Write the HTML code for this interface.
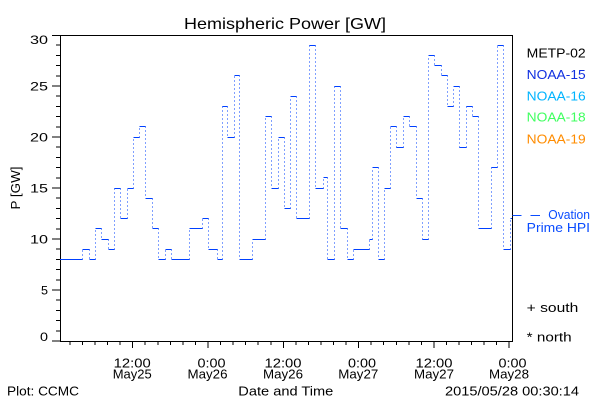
<!DOCTYPE html>
<html><head><meta charset="utf-8"><style>
html,body{margin:0;padding:0;background:#fff;}
svg{display:block;}
text{font-family:"Liberation Sans",sans-serif;}
</style></head><body>
<svg width="600" height="400" viewBox="0 0 600 400" xmlns="http://www.w3.org/2000/svg">
<rect width="600" height="400" fill="#fff"/>
<text x="184" y="29" font-size="16" textLength="202" lengthAdjust="spacingAndGlyphs" fill="#000">Hemispheric Power [GW]</text>
<g stroke="#000" stroke-width="1" fill="none" shape-rendering="crispEdges">
<path d="M60.5 35.5H512.5V341.5H60.5Z"/>
<path d="M52 35.5H60M52 86H60M52 137H60M52 188H60M52 239H60M52 290H60M52 341H60"/>
<path d="M56 45.2H60M56 55.4H60M56 65.6H60M56 75.8H60M56 96.2H60M56 106.4H60M56 116.6H60M56 126.8H60M56 147.2H60M56 157.4H60M56 167.6H60M56 177.8H60M56 198.2H60M56 208.4H60M56 218.6H60M56 228.8H60M56 249.2H60M56 259.4H60M56 269.6H60M56 279.8H60M56 300.2H60M56 310.4H60M56 320.6H60M56 330.8H60"/>
<path d="M132.7 341V348M208 341V348M283.3 341V348M358.6 341V348M433.9 341V348M509.2 341V348"/>
<path d="M69.9 341V345M82.5 341V345M95.1 341V345M107.6 341V345M120.2 341V345M145.2 341V345M157.8 341V345M170.4 341V345M182.9 341V345M195.5 341V345M220.6 341V345M233.1 341V345M245.7 341V345M258.2 341V345M270.8 341V345M295.9 341V345M308.4 341V345M321 341V345M333.5 341V345M346.1 341V345M371.2 341V345M383.7 341V345M396.3 341V345M408.8 341V345M421.4 341V345M446.5 341V345M459 341V345M471.6 341V345M484.1 341V345M496.7 341V345"/>
</g>
<g font-size="12" fill="#000" text-anchor="end">
<text x="48" y="44" textLength="18" lengthAdjust="spacingAndGlyphs">30</text>
<text x="48" y="90.5" textLength="18" lengthAdjust="spacingAndGlyphs">25</text>
<text x="48" y="141.5" textLength="18" lengthAdjust="spacingAndGlyphs">20</text>
<text x="48" y="192.5" textLength="18" lengthAdjust="spacingAndGlyphs">15</text>
<text x="48" y="243.5" textLength="18" lengthAdjust="spacingAndGlyphs">10</text>
<text x="48" y="294.5" textLength="7" lengthAdjust="spacingAndGlyphs">5</text>
<text x="48" y="341" textLength="8" lengthAdjust="spacingAndGlyphs">0</text>
</g>
<text transform="translate(20,188) rotate(-90)" text-anchor="middle" font-size="13" fill="#000" textLength="43" lengthAdjust="spacingAndGlyphs">P [GW]</text>
<g font-size="13" fill="#000">
<text x="132.2" y="367.5" text-anchor="middle" textLength="37" lengthAdjust="spacingAndGlyphs">12:00</text>
<text x="132.2" y="378.5" text-anchor="middle" textLength="39" lengthAdjust="spacingAndGlyphs">May25</text>
<text x="225.5" y="367.5" text-anchor="end" textLength="28" lengthAdjust="spacingAndGlyphs">0:00</text>
<text x="207.5" y="378.5" text-anchor="middle" textLength="40" lengthAdjust="spacingAndGlyphs">May26</text>
<text x="283" y="367.5" text-anchor="middle" textLength="37" lengthAdjust="spacingAndGlyphs">12:00</text>
<text x="283" y="378.5" text-anchor="middle" textLength="40" lengthAdjust="spacingAndGlyphs">May26</text>
<text x="376" y="367.5" text-anchor="end" textLength="28" lengthAdjust="spacingAndGlyphs">0:00</text>
<text x="358.3" y="378.5" text-anchor="middle" textLength="40" lengthAdjust="spacingAndGlyphs">May27</text>
<text x="434" y="367.5" text-anchor="middle" textLength="37" lengthAdjust="spacingAndGlyphs">12:00</text>
<text x="434" y="378.5" text-anchor="middle" textLength="40" lengthAdjust="spacingAndGlyphs">May27</text>
<text x="526.5" y="367.5" text-anchor="end" textLength="28" lengthAdjust="spacingAndGlyphs">0:00</text>
<text x="509" y="378.5" text-anchor="middle" textLength="40" lengthAdjust="spacingAndGlyphs">May28</text>
</g>
<g font-size="12.5" fill="#000">
<text x="7" y="395.5" textLength="72" lengthAdjust="spacingAndGlyphs">Plot: CCMC</text>
<text x="238.3" y="395.5" textLength="95" lengthAdjust="spacingAndGlyphs">Date and Time</text>
<text x="445" y="395.5" textLength="134" lengthAdjust="spacingAndGlyphs">2015/05/28 00:30:14</text>
</g>
<g font-size="12.5">
<text x="526.7" y="57.5" fill="#000" textLength="59" lengthAdjust="spacingAndGlyphs">METP-02</text>
<text x="526.7" y="79" fill="#1030e0" textLength="59" lengthAdjust="spacingAndGlyphs">NOAA-15</text>
<text x="526.7" y="100.3" fill="#00b4ff" textLength="59" lengthAdjust="spacingAndGlyphs">NOAA-16</text>
<text x="526.7" y="121.7" fill="#40ff60" textLength="59" lengthAdjust="spacingAndGlyphs">NOAA-18</text>
<text x="526.7" y="143.3" fill="#ff8c00" textLength="59" lengthAdjust="spacingAndGlyphs">NOAA-19</text>
<text x="548.3" y="219" fill="#0a4cff" font-size="13" textLength="41.7" lengthAdjust="spacingAndGlyphs">Ovation</text>
<text x="526.7" y="231.8" fill="#0a4cff" textLength="63.3" lengthAdjust="spacingAndGlyphs">Prime HPI</text>
<text x="526.7" y="312" fill="#000" textLength="51.6" lengthAdjust="spacingAndGlyphs">+ south</text>
<text x="526.7" y="341.5" fill="#000" textLength="45" lengthAdjust="spacingAndGlyphs">* north</text>
</g>
<g stroke="#0a4cff" stroke-width="1" shape-rendering="crispEdges">
<path d="M512.5 215.5H521.5M530.5 215.5H540"/>
</g>
<path fill="none" stroke="#0040ff" stroke-width="1" shape-rendering="crispEdges" d="M60 259.5H82.5M82.5 249.5H89.5M89.5 259.5H95.5M95.5 228.5H101.5M101.5 239.5H108.5M108.5 249.5H114.5M114.5 188.5H120.5M120.5 218.5H127.5M127.5 188.5H133.5M133.5 137.5H139.5M139.5 126.5H145.5M145.5 198.5H152.5M152.5 228.5H158.5M158.5 259.5H165.5M165.5 249.5H171.5M171.5 259.5H189.5M189.5 228.5H202.5M202.5 218.5H208.5M208.5 249.5H217.5M217.5 259.5H222.5M222.5 106.5H227.5M227.5 137.5H234.5M234.5 75.5H239.5M239.5 259.5H252.5M252.5 239.5H265.5M265.5 116.5H271.5M271.5 188.5H278.5M278.5 137.5H284.5M284.5 208.5H290.5M290.5 96.5H296.5M296.5 218.5H309.5M309.5 45.5H315.5M315.5 188.5H323.5M323.5 177.5H327.5M327.5 259.5H334.5M334.5 86.5H340.5M340.5 228.5H347.5M347.5 259.5H353.5M353.5 249.5H369.5M369.5 239.5H372.5M372.5 167.5H378.5M378.5 259.5H384.5M384.5 188.5H390.5M390.5 126.5H396.5M396.5 147.5H403.5M403.5 116.5H409.5M409.5 126.5H416.5M416.5 198.5H422.5M422.5 239.5H428.5M428.5 55.5H434.5M434.5 65.5H441.5M441.5 75.5H447.5M447.5 106.5H453.5M453.5 86.5H459.5M459.5 147.5H466.5M466.5 106.5H472.5M472.5 116.5H478.5M478.5 228.5H491.5M491.5 167.5H497.5M497.5 45.5H503.5M503.5 249.5H510.5M510.5 218.5H512"/>
<path fill="none" stroke="#0040ff" stroke-width="1" stroke-dasharray="1 3" shape-rendering="crispEdges" d="M82.5 259.5V249.5M89.5 249.5V259.5M95.5 259.5V228.5M101.5 228.5V239.5M108.5 239.5V249.5M114.5 249.5V188.5M120.5 188.5V218.5M127.5 218.5V188.5M133.5 188.5V137.5M139.5 137.5V126.5M145.5 126.5V198.5M152.5 198.5V228.5M158.5 228.5V259.5M165.5 259.5V249.5M171.5 249.5V259.5M189.5 259.5V228.5M202.5 228.5V218.5M208.5 218.5V249.5M217.5 249.5V259.5M222.5 259.5V106.5M227.5 106.5V137.5M234.5 137.5V75.5M239.5 75.5V259.5M252.5 259.5V239.5M265.5 239.5V116.5M271.5 116.5V188.5M278.5 188.5V137.5M284.5 137.5V208.5M290.5 208.5V96.5M296.5 96.5V218.5M309.5 218.5V45.5M315.5 45.5V188.5M323.5 188.5V177.5M327.5 177.5V259.5M334.5 259.5V86.5M340.5 86.5V228.5M347.5 228.5V259.5M353.5 259.5V249.5M369.5 249.5V239.5M372.5 239.5V167.5M378.5 167.5V259.5M384.5 259.5V188.5M390.5 188.5V126.5M396.5 126.5V147.5M403.5 147.5V116.5M409.5 116.5V126.5M416.5 126.5V198.5M422.5 198.5V239.5M428.5 239.5V55.5M434.5 55.5V65.5M441.5 65.5V75.5M447.5 75.5V106.5M453.5 106.5V86.5M459.5 86.5V147.5M466.5 147.5V106.5M472.5 106.5V116.5M478.5 116.5V228.5M491.5 228.5V167.5M497.5 167.5V45.5M503.5 45.5V249.5M510.5 249.5V218.5"/>
</svg>
</body></html>
